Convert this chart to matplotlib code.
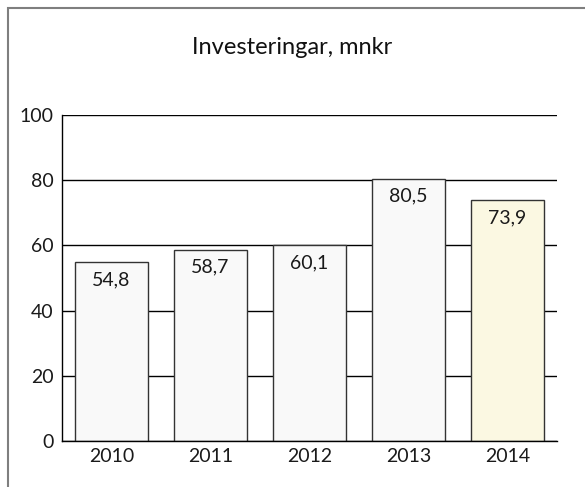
import matplotlib.pyplot as plt
from matplotlib.patches import Rectangle

years = ['2010', '2011', '2012', '2013', '2014']
values = [54.8, 58.7, 60.1, 80.5, 73.9]
labels = ['54,8', '58,7', '60,1', '80,5', '73,9']
colors = ['#f9f9f9', '#f9f9f9', '#f9f9f9', '#f9f9f9', '#fbf8e2']

plt.rcParams['font.family'] = ['Lato', 'DejaVu Sans']

fig = plt.figure(figsize=(5.85, 4.87), dpi=100)
ax = fig.add_axes([62 / 585, 1 - 441 / 487, 495 / 585, 326 / 487])

# outer frame
fig.patches.append(Rectangle((8 / 585, -0.1), 1.2, 1 - 8 / 487 + 0.1, transform=fig.transFigure,
                             fill=False, edgecolor='#7f7f7f', linewidth=1.5))

ax.set_axisbelow(True)
ax.yaxis.grid(True, color='black', linewidth=1)
bars = ax.bar(range(len(years)), values, width=0.73, color=colors, edgecolor='#333333', linewidth=1, zorder=2)
for i, b in enumerate(bars):
    ax.text(b.get_x() + b.get_width() / 2, values[i] - 5.4, labels[i], ha='center', va='center',
            fontsize=14, color='#1a1a1a', zorder=3)

ax.set_xlim(-0.5, 4.5)
ax.set_ylim(0, 100)
ax.set_yticks([0, 20, 40, 60, 80, 100])
ax.set_xticks(range(len(years)))
ax.set_xticklabels(years)
ax.tick_params(length=0, labelsize=14, colors='#1a1a1a')
ax.tick_params(axis='x', pad=5)
ax.tick_params(axis='y', pad=6)
for s in ['top', 'right']:
    ax.spines[s].set_visible(False)
ax.spines['left'].set_linewidth(1)
ax.spines['bottom'].set_linewidth(1)

fig.text(292 / 585, 1 - 48 / 487, 'Investeringar, mnkr', ha='center', va='center', fontsize=17, color='#111111')

fig.savefig('out.png', dpi=100)
